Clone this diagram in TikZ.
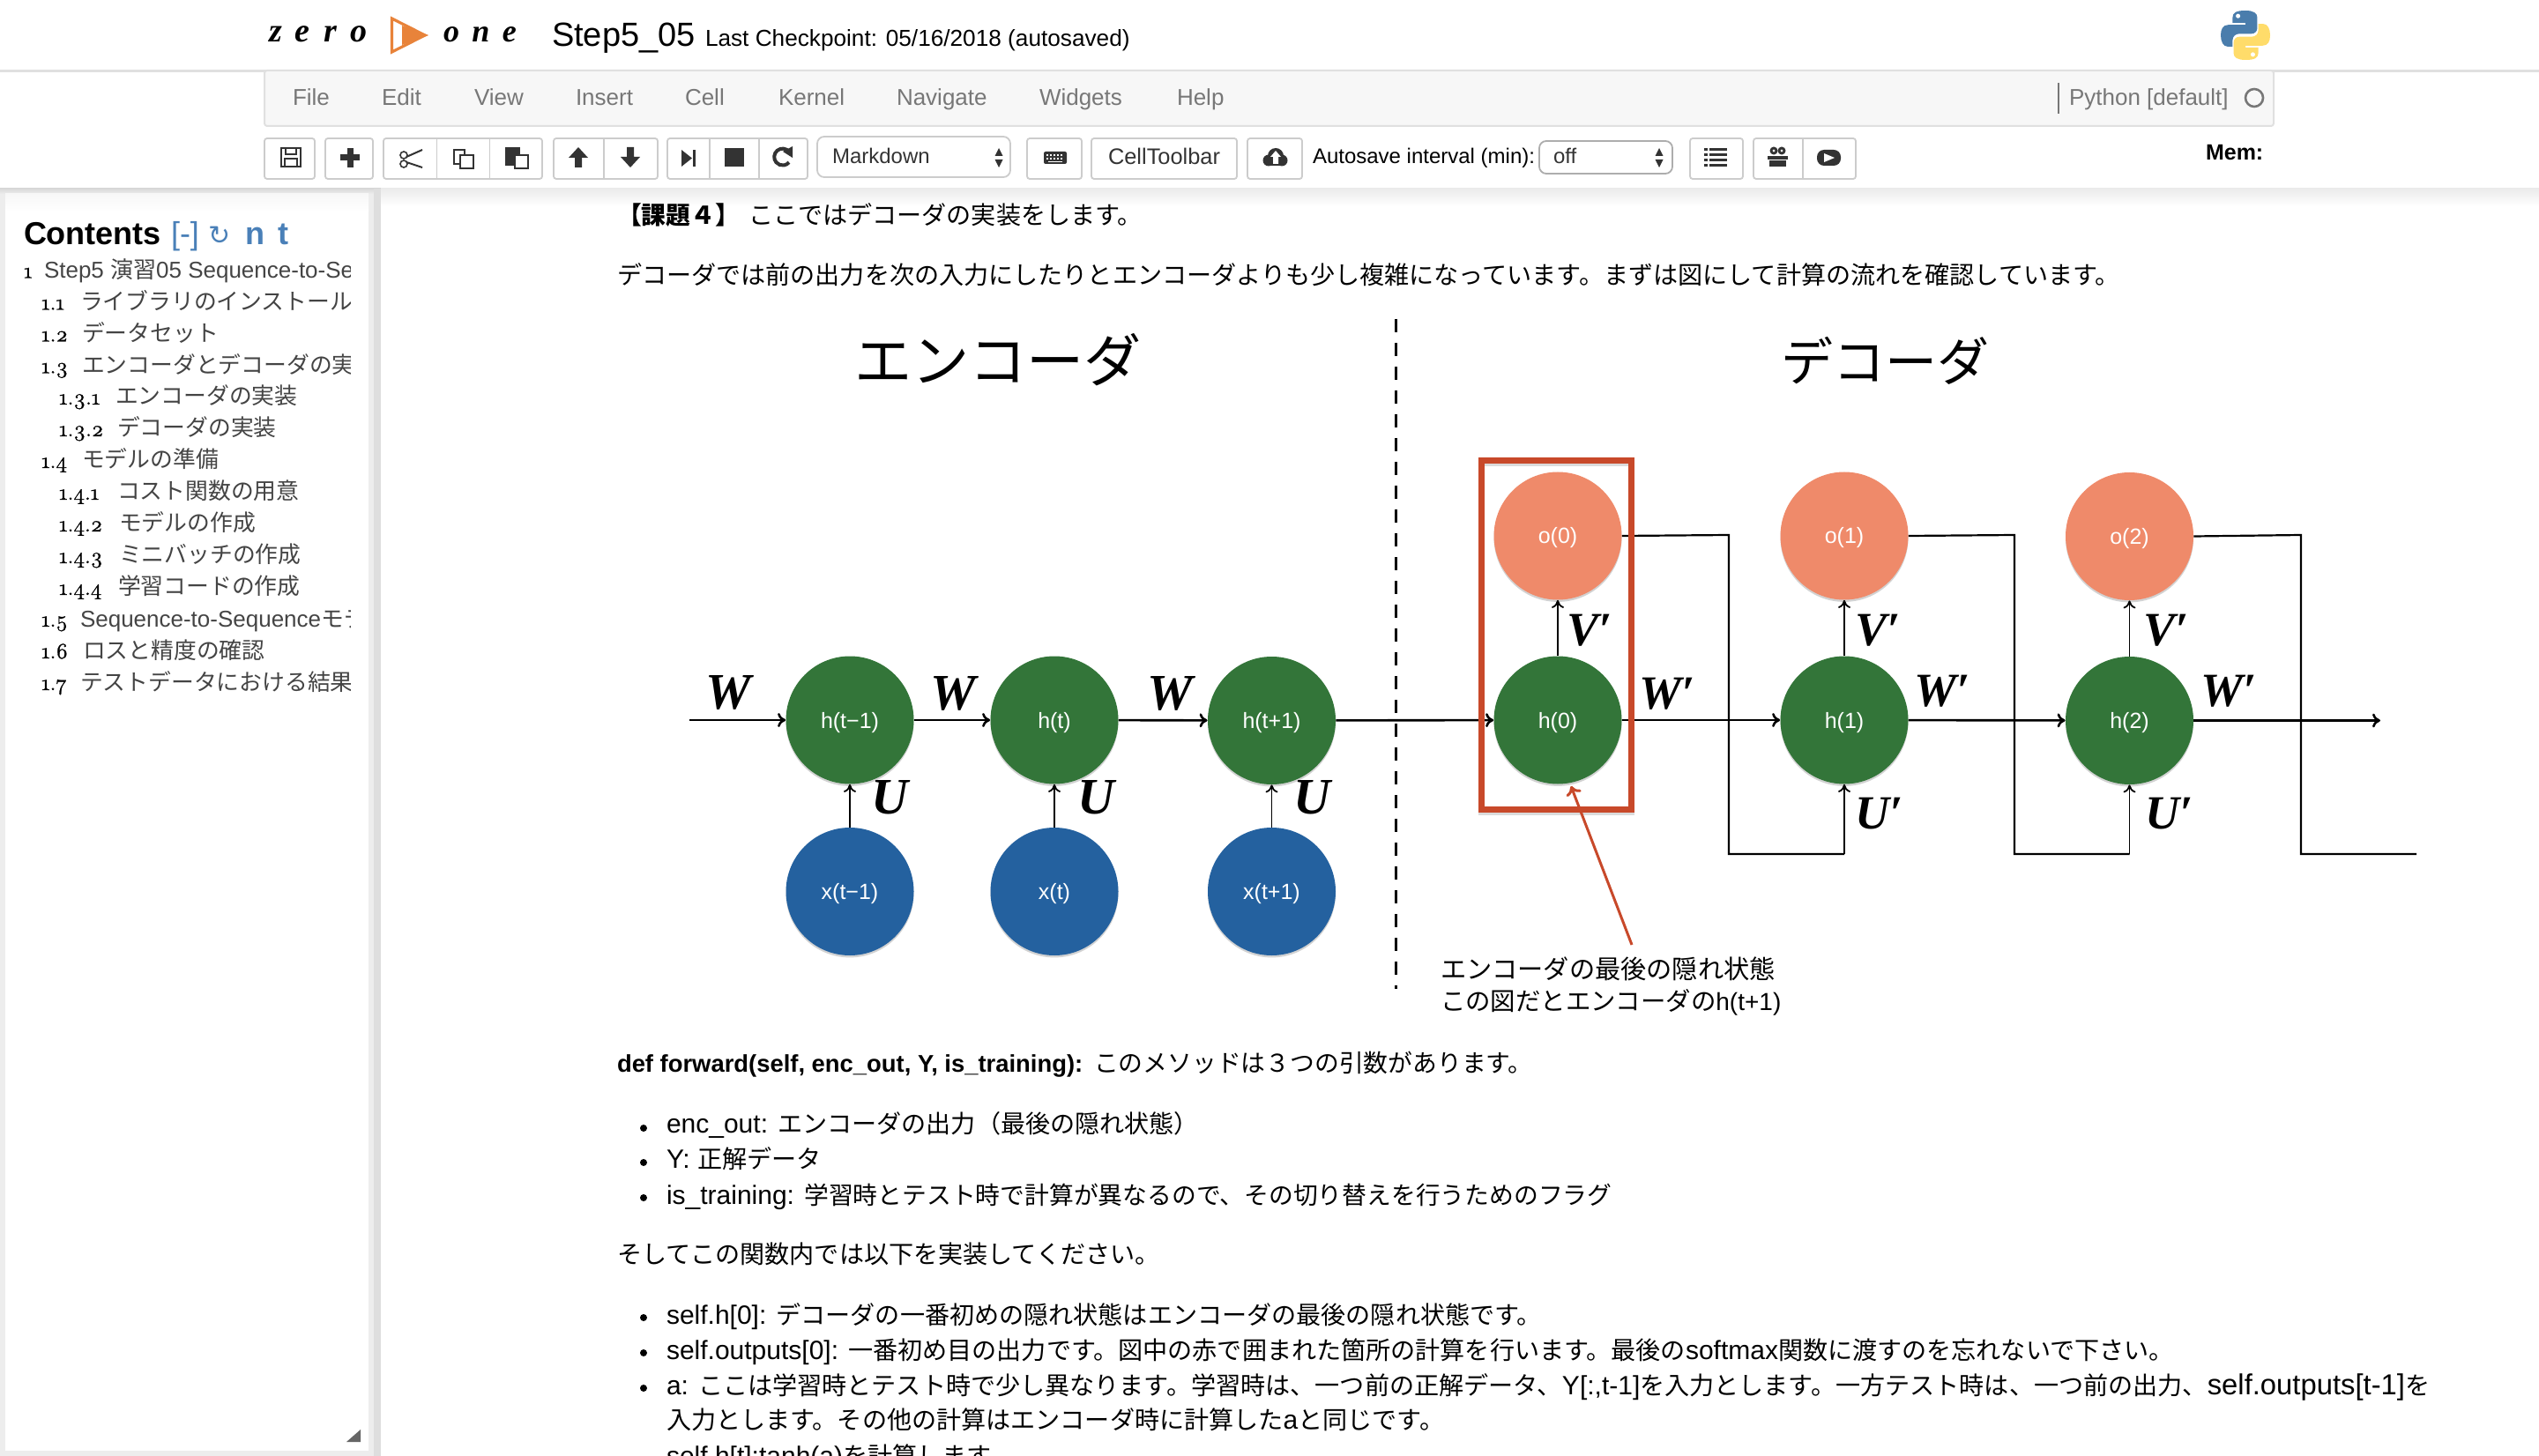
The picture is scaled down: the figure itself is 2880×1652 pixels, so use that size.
\documentclass[tikz,border=0pt]{standalone}
\usepackage{fontspec}
\usetikzlibrary{arrows.meta,shadows}
\setmainfont{Liberation Sans}
\newfontfamily\jp{Noto Sans CJK JP}
\newfontfamily\serbi[BoldItalicFont={Liberation Serif Bold Italic}]{Liberation Serif}
\newfontfamily\logof[LetterSpace=40]{Liberation Serif}
\newfontfamily\numf[Numbers=OldStyle,FakeBold=1.2]{Latin Modern Roman}
\newfontfamily\dejav{DejaVu Sans}
\newcommand{\fs}[1]{\fontsize{#1}{#1}\selectfont}
\newcommand{\jsz}{14.05}
\newcommand{\J}[1]{{\jp\fs{\jsz}#1}}
\newcommand{\nl}[1]{\raisebox{-4.5pt}[0pt][0pt]{#1}}
\definecolor{grn}{HTML}{337539}
\definecolor{blu}{HTML}{24619F}
\definecolor{org}{HTML}{EF8A6A}
\definecolor{redb}{HTML}{C8492A}
\definecolor{ico}{HTML}{333333}
\definecolor{bdr}{HTML}{CCCCCC}
\definecolor{menu}{HTML}{777777}
\definecolor{lnk}{HTML}{4A80B8}
\definecolor{tocg}{HTML}{444444}
\definecolor{lgo}{HTML}{E8833A}
\definecolor{pyb}{HTML}{4A7DAC}
\definecolor{pyy}{HTML}{FFDC6A}
\tikzset{
 txt/.style={anchor=base west,inner sep=0pt,outer sep=0pt,text=black},
 mtx/.style={txt,text=menu,font=\fs{13}},
 tb/.style={txt,font=\fs{12}},
 tnum/.style={txt,font=\numf\fs{12.4}},
 ttx/.style={txt,text=tocg,font=\jp\fs{12.9}},
 body/.style={txt,font=\fs{15}},
 btn/.style={draw=bdr,line width=.9pt,fill=white,rounded corners=1.5pt},
 sep/.style={draw=bdr,line width=.8pt},
 nd/.style={circle,minimum size=72.5pt,inner sep=0pt,text=white,font=\fs{12.5},
   drop shadow={shadow xshift=0pt,shadow yshift=-1.2pt,opacity=.35}},
 sym/.style={inner sep=0pt,font=\serbi\bfseries\itshape\fs{29}},
 symp/.style={inner sep=0pt,font=\serbi\bfseries\itshape\fs{27}},
 wire/.style={line width=1.3pt,-{To[length=4.5pt,width=8pt]}},
 vwire/.style={line width=.9pt,-{To[length=4.5pt,width=7pt]}},
 plain/.style={line width=1.1pt,line join=miter},
 head/.style={inner sep=0pt,font=\jp\fs{29.5}},
}
\begin{document}
\begin{tikzpicture}[x=.5pt,y=-.5pt]
\useasboundingbox (0,0) rectangle (2880,1652);
\fill[white] (0,0) rectangle (2880,1652);
% page frames
\fill[black!7] (0,214) rectangle (432,1652);
\shade[top color=black!15,bottom color=black!7] (0,214) rectangle (432,220);
\shade[top color=black!8,bottom color=white] (432,214) rectangle (2880,234);
\fill[black!13] (424,214) rectangle (432,1652);
\fill[white] (6,220) rectangle (418,1646);
\shade[top color=black!3,bottom color=white] (6,220) rectangle (418,240);
\fill[black!12] (0,79) rectangle (2880,82);
% header
\draw[lgo,line width=1.6pt,line join=miter] (444.5,21) -- (482,40) -- (444.5,59) -- cycle;
\fill[lgo] (456,29) -- (486,40) -- (456,51) -- cycle;
\node[txt,font=\logof\bfseries\itshape\fs{19}] (logo1) at (305,48) {zero};
\node[txt,font=\logof\bfseries\itshape\fs{18}] (logo2) at (503,48) {one};
\node[txt,font=\fs{19}] (title) at (626,53) {Step5\_05};
\node[txt,font=\fs{13.1}] (ckpt) at (800,53) {Last Checkpoint: 05/16/2018 (autosaved)};
% python logo
\begin{scope}[shift={(2519,12)},x=28pt,y=-28pt]
 \fill[pyb] (.5,0) .. controls (.3,0) and (.24,.05) .. (.24,.14) -- (.24,.25) -- (.5,.25) -- (.5,.29) -- (.15,.29) .. controls (.04,.29) and (0,.38) .. (0,.5) .. controls (0,.63) and (.05,.73) .. (.14,.73) -- (.24,.73) -- (.24,.6) .. controls (.24,.52) and (.3,.47) .. (.38,.47) -- (.62,.47) .. controls (.69,.47) and (.74,.42) .. (.74,.35) -- (.74,.14) .. controls (.74,.05) and (.66,0) .. (.5,0) -- cycle;
 \fill[white] (.35,.11) circle[radius=.045];
 \begin{scope}[rotate around={180:(.5,.5)}]
  \fill[pyy] (.5,0) .. controls (.3,0) and (.24,.05) .. (.24,.14) -- (.24,.25) -- (.5,.25) -- (.5,.29) -- (.15,.29) .. controls (.04,.29) and (0,.38) .. (0,.5) .. controls (0,.63) and (.05,.73) .. (.14,.73) -- (.24,.73) -- (.24,.6) .. controls (.24,.52) and (.3,.47) .. (.38,.47) -- (.62,.47) .. controls (.69,.47) and (.74,.42) .. (.74,.35) -- (.74,.14) .. controls (.74,.05) and (.66,0) .. (.5,0) -- cycle;
  \fill[white] (.35,.11) circle[radius=.045];
 \end{scope}
\end{scope}
% menu bar
\draw[draw=black!12,line width=1pt,fill=black!3,rounded corners=1.5pt] (300,80) rectangle (2579,143);
\node[mtx] (mFile) at (332,120) {File};
\node[mtx] (mEdit) at (433,120) {Edit};
\node[mtx] (mView) at (538,120) {View};
\node[mtx] (mInsert) at (653,120) {Insert};
\node[mtx] (mCell) at (777,120) {Cell};
\node[mtx] (mKernel) at (883,120) {Kernel};
\node[mtx] (mNav) at (1017,120) {Navigate};
\node[mtx] (mWid) at (1179,120) {Widgets};
\node[mtx] (mHelp) at (1335,120) {Help};
\draw[menu,line width=.7pt] (2335,94) -- (2335,129);
\node[mtx] (mKer) at (2347,120) {Python [default]};
\draw[menu,line width=1.3pt] (2557,111) circle[radius=10];
% toolbar buttons
\draw[btn] (300,157) rectangle (357,203);
\draw[btn] (369,157) rectangle (423,203);
\draw[btn] (435,157) rectangle (615,203);
\draw[sep] (495.5,157) -- (495.5,203); \draw[sep] (555.5,157) -- (555.5,203);
\draw[btn] (628,157) rectangle (746,203);
\draw[sep] (685,157) -- (685,203);
\draw[btn] (757,157) rectangle (916,203);
\draw[sep] (805,157) -- (805,203); \draw[sep] (861,157) -- (861,203);
\draw[btn,rounded corners=4pt] (927,155) rectangle (1146,201);
\draw[btn] (1165,157) rectangle (1227,203);
\draw[btn] (1238,157) rectangle (1403,203);
\draw[btn] (1415,157) rectangle (1477,203);
\draw[btn,draw=black!32,rounded corners=4pt] (1746,160) rectangle (1897,197);
\draw[btn] (1917,157) rectangle (1977,203);
\draw[btn] (1989,157) rectangle (2105,203);
\draw[sep] (2045,157) -- (2045,203);
\node[tb,text=ico] (sel) at (944,186) {Markdown};
\node[tb,font=\fs{12.7},text=ico] (celltb) at (1257,187) {CellToolbar};
\node[tb] (autos) at (1489,186) {Autosave interval (min):};
\node[tb,text=ico] (off) at (1762,186) {off};
\node[txt,font=\bfseries\fs{12.5}] (mem) at (2502,182) {Mem:};
% icons
\begin{scope}[ico,line width=.8pt]
 \draw (319,168) rectangle (341,189); \draw (324,168) rectangle (336,175); \draw (323,180) rectangle (337,189);
 \fill (393.5,168) rectangle (400.5,190); \fill (386,175.5) rectangle (408,182.5);
 \draw (458,176) circle[radius=4]; \draw (458,186) circle[radius=4];
 \draw[line width=1pt] (461,178) -- (479,170); \draw[line width=1pt] (461,184) -- (479,190);
 \draw[fill=white] (515,170) rectangle (527,186); \draw[fill=white] (522,176) rectangle (537,191);
 \fill (573,167) rectangle (590,188); \draw[fill=white] (584,176) rectangle (599,191);
 \fill (656,167) -- (667,179) -- (660,179) -- (660,190) -- (652,190) -- (652,179) -- (645,179) -- cycle;
 \fill (715,190) -- (726,178) -- (719,178) -- (719,167) -- (711,167) -- (711,178) -- (704,178) -- cycle;
 \fill (773,170) -- (785,179.5) -- (773,189) -- cycle; \fill (786,170) rectangle (789,189);
 \fill (822,168) rectangle (844,189);
 \draw[line width=2pt] (895,172) arc[start angle=-40,end angle=-320,radius=9.5];
 \fill (899,166) -- (899,179) -- (888,172) -- cycle;
 \fill[rounded corners=1pt] (1184,172) rectangle (1210,186);
 \foreach \kx in {1187,1191,1195,1199,1203} {\fill[white] (\kx,175) rectangle +(2.4,2); \fill[white] (\kx,179) rectangle +(2.4,2);}
 \fill[white] (1189,183) rectangle (1205,184.4);
 \fill (1439,182) circle[radius=6.5]; \fill (1454,182) circle[radius=6.5];
 \fill (1447,177) circle[radius=9]; \fill (1439,181) rectangle (1454,188.5);
 \fill[white] (1447,171) -- (1453,178) -- (1450,178) -- (1450,186) -- (1444,186) -- (1444,178) -- (1441,178) -- cycle;
 \foreach \ly in {168,174,180,186} {\fill (1933,\ly) rectangle +(4,3.5); \fill (1939,\ly) rectangle +(20,3.5);}
 \fill (2005,177) rectangle (2028,181); \fill (2007,182) rectangle (2026,189);
 \draw[line width=1.4pt] (2012,171) circle[radius=3]; \draw[line width=1.4pt] (2021,171) circle[radius=3];
 \fill[rounded corners=4pt] (2061,170) rectangle (2088,188);
 \fill[white] (2069,174) -- (2081,179) -- (2069,184) -- cycle;
 \foreach \ax in {1133,1882} {
  \fill (\ax,168) -- +(-4.5,9) -- +(4.5,9) -- cycle;
  \fill (\ax,190) -- +(-4.5,-9) -- +(4.5,-9) -- cycle;}
\end{scope}
% sidebar
\node[txt,font=\bfseries\fs{18}] (cont) at (27,278) {Contents};
\node[txt,text=lnk,font=\fs{18}] (cmin) at (194,278) {[-]};
\node[txt,text=lnk,font=\dejav\fs{15}] (cref) at (236,278) {↻};
\node[txt,text=lnk,font=\bfseries\fs{18}] (cn) at (278,278) {n};
\node[txt,text=lnk,font=\bfseries\fs{18}] (ct) at (315,278) {t};
\begin{scope}
 \clip (0,285) rectangle (397,800);
 \node[tnum] (n1) at (27,315.5) {1};
 \node[ttx,font=\fs{13}] (t1) at (50,315.5) {Step5 {\jp 演習}05 Sequence-to-Seq};
 \node[tnum] (n2) at (47,351.5) {1.1};   \node[ttx] (t2) at (91,351.5) {ライブラリのインストール};
 \node[tnum] (n3) at (47,387.5) {1.2};   \node[ttx] (t3) at (93,387.5) {データセット};
 \node[tnum] (n4) at (47,423.5) {1.3};   \node[ttx] (t4) at (93,423.5) {エンコーダとデコーダの実装};
 \node[tnum] (n5) at (67,459)   {1.3.1}; \node[ttx] (t5) at (131,459) {エンコーダの実装};
 \node[tnum] (n6) at (67,495)   {1.3.2}; \node[ttx] (t6) at (133,495) {デコーダの実装};
 \node[tnum] (n7) at (47,531)   {1.4};   \node[ttx] (t7) at (93,531) {モデルの準備};
 \node[tnum] (n8) at (67,567)   {1.4.1}; \node[ttx] (t8) at (133,567) {コスト関数の用意};
 \node[tnum] (n9) at (67,603)   {1.4.2}; \node[ttx] (t9) at (135,603) {モデルの作成};
 \node[tnum] (n10) at (67,639)  {1.4.3}; \node[ttx] (t10) at (135,639) {ミニバッチの作成};
 \node[tnum] (n11) at (67,675)  {1.4.4}; \node[ttx] (t11) at (134,675) {学習コードの作成};
 \node[tnum] (n12) at (47,711)  {1.5};   \node[ttx,font=\fs{13}] (t12) at (91,711) {Sequence-to-Sequence{\jp\fs{12.9}モデル}};
 \node[tnum] (n13) at (47,747)  {1.6};   \node[ttx] (t13) at (94,747) {ロスと精度の確認};
 \node[tnum] (n14) at (47,783)  {1.7};   \node[ttx] (t14) at (91,783) {テストデータにおける結果};
\end{scope}
% resize handle
\fill[black!60] (409,1622) -- (409,1636) -- (393,1636) -- cycle;
% body text
\node[body,font=\jp\bfseries\fs{13.9}] (k1) at (700,255) {【課題４】};
\node[body,font=\jp\fs{14.05}] (k2) at (849,255) {ここではデコーダの実装をします。};
\node[body,font=\jp\fs{14.05}] (k3) at (700,323) {デコーダでは前の出力を次の入力にしたりとエンコーダよりも少し複雑になっています。まずは図にして計算の流れを確認しています。};
\node[body,font=\bfseries\fs{13.7}] (d1) at (700,1216) {def forward(self, enc\_out, Y, is\_training):};
\node[body,font=\jp\fs{13.9}] (d2) at (1241,1216) {このメソッドは３つの引数があります。};
\foreach \by in {1280,1319,1359,1495,1535,1575} {\fill (730,\by) circle[radius=4];}
\node[body] (b1) at (756,1285) {enc\_out: \J{エンコーダの出力（最後の隠れ状態）}};
\node[body] (b2) at (756,1325) {Y: \J{正解データ}};
\node[body] (b3) at (756,1366) {is\_training: {\jp\fs{13.9}学習時とテスト時で計算が異なるので、その切り替えを行うためのフラグ}};
\node[body,font=\jp\fs{14.05}] (b4) at (700,1433) {そしてこの関数内では以下を実装してください。};
\node[body] (b5) at (756,1502) {self.h[0]: \J{デコーダの一番初めの隠れ状態はエンコーダの最後の隠れ状態です。}};
\node[body] (b6) at (756,1542) {self.outputs[0]: \J{一番初め目の出力です。図中の赤で囲まれた箇所の計算を行います。最後の}softmax\J{関数に渡すのを忘れないで下さい。}};
\node[body] (b7) at (756,1582) {a: \J{ここは学習時とテスト時で少し異なります。学習時は、一つ前の正解データ、}Y[:,t-1]\J{を入力とします。一方テスト時は、一つ前の出力、}{\fs{16.4}self.outputs[t-1]}\J{を}};
\node[body] (b8) at (756,1621) {\J{入力とします。その他の計算はエンコーダ時に計算した}a\J{と同じです。}};
\node[body] (b9) at (756,1662) {self.h[t]:tanh(a)\J{を計算します。}};
% diagram headings
\node[head,font=\jp\fs{32.6}] (hEnc) at (1132,408) {エンコーダ};
\node[head] (hDec) at (2138,409) {デコーダ};
\draw[line width=1.5pt,dash pattern=on 7.5pt off 6pt] (1583,362) -- (1583,1122);
% nodes
\node[nd,fill=grn] (h1) at (964,817) {\nl{h(t−1)}};
\node[nd,fill=grn] (h2) at (1196,817) {\nl{h(t)}};
\node[nd,fill=grn] (h3) at (1442.5,817.5) {\nl{h(t+1)}};
\node[nd,fill=blu] (x1) at (964,1011.5) {\nl{x(t−1)}};
\node[nd,fill=blu] (x2) at (1196,1011.5) {\nl{x(t)}};
\node[nd,fill=blu] (x3) at (1442.5,1011.5) {\nl{x(t+1)}};
\node[nd,fill=grn] (d0) at (1767,817) {\nl{h(0)}};
\node[nd,fill=grn] (d1n) at (2092,817) {\nl{h(1)}};
\node[nd,fill=grn] (d2n) at (2415.5,817.5) {\nl{h(2)}};
\node[nd,fill=org] (o0) at (1767,608) {\nl{o(0)}};
\node[nd,fill=org] (o1) at (2092,608) {\nl{o(1)}};
\node[nd,fill=org] (o2) at (2415.5,608.5) {\nl{o(2)}};
\coordinate (start) at (782,817);
\coordinate (stop) at (2700,817.5);
\coordinate (e1) at (1961,607); \coordinate (f1) at (1961,969); \coordinate (g1) at (2092,969);
\coordinate (e2) at (2285,607); \coordinate (f2) at (2285,969); \coordinate (g2) at (2415.5,969);
\coordinate (e3) at (2610,607); \coordinate (f3) at (2610,969); \coordinate (g3) at (2741,969);
% connectors
\draw[wire] (start) -- (h1);
\draw[wire] (h1) -- (h2);
\draw[wire] (h2) -- (h3);
\draw[wire] (h3) -- (d0);
\draw[wire] (d0) -- (d1n);
\draw[wire] (d1n) -- (d2n);
\draw[wire] (d2n) -- (stop);
\draw[vwire] (x1) -- (h1);
\draw[vwire] (x2) -- (h2);
\draw[vwire] (x3) -- (h3);
\draw[vwire] (d0) -- (o0);
\draw[vwire] (d1n) -- (o1);
\draw[vwire] (d2n) -- (o2);
\draw[plain] (o0.east) -- (e1) -- (f1) -- (g1);
\draw[vwire] (g1) -- (d1n);
\draw[plain] (o1.east) -- (e2) -- (f2) -- (g2);
\draw[vwire] (g2) -- (d2n);
\draw[plain] (o2.east) -- (e3) -- (f3) -- (g3);
% red box
\draw[black!35,line width=3.5pt,opacity=.4] (1680.5,526) rectangle (1850.5,921);
\node[draw=redb,line width=3.5pt,minimum width=85pt,minimum height=197.5pt,inner sep=0pt] (rbox) at (1765.5,720.5) {};
% labels
\node[sym] (lW1) at (826,786) {W};
\node[sym] (lW2) at (1081,787) {W};
\node[sym] (lW3) at (1327,787) {W};
\node[sym] (lU1) at (1009,905) {U};
\node[sym] (lU2) at (1243,905) {U};
\node[sym] (lU3) at (1488,905) {U};
\node[symp] (lV1) at (1803,715) {V′};
\node[symp] (lV2) at (2130,715) {V′};
\node[symp] (lV3) at (2457,715) {V′};
\node[symp] (lWa) at (1891,787) {W′};
\node[symp] (lWb) at (2203,784) {W′};
\node[symp] (lWc) at (2528,784) {W′};
\node[symp] (lUa) at (2132,923) {U′};
\node[symp] (lUb) at (2461,923) {U′};
% annotation
\node[txt,font=\jp\fs{14.6}] (an1) at (1634,1110) {エンコーダの最後の隠れ状態};
\node[txt,font=\fs{14}] (an2) at (1634,1146) {{\jp\fs{14.2}この図だとエンコーダの}h(t+1)};
\coordinate (anTop) at (1851,1072);
\coordinate (anTip) at (1782,892);
\draw[redb,line width=1.5pt,-{To[length=5pt,width=9pt]}] (anTop) -- (anTip);
\end{tikzpicture}
\end{document}
